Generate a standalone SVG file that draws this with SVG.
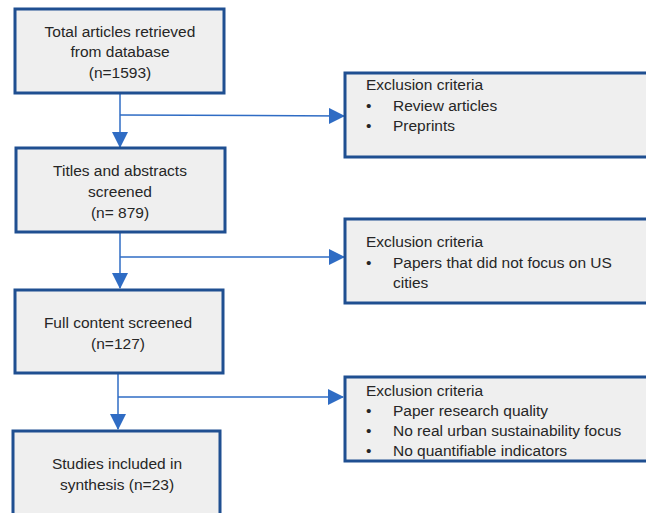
<svg xmlns="http://www.w3.org/2000/svg" width="646" height="513" viewBox="0 0 646 513">
<style>
.box{fill:#efefef;stroke:#1f4f91;stroke-width:3}
.t{font-family:"Liberation Sans",Arial,sans-serif;font-size:15.5px;fill:#262626}
.c{text-anchor:middle}
.conn{stroke:#2f6cc4;stroke-width:1.5;fill:none}
</style>
<defs>
<marker id="ah" markerUnits="userSpaceOnUse" markerWidth="16" markerHeight="16" viewBox="0 0 16 16" refX="15" refY="8" orient="auto">
<path d="M0,0 L16,8 L0,16 z" fill="#2f6cc4"/>
</marker>
</defs>
<rect width="646" height="513" fill="#ffffff"/>
<g id="connectors">
<line class="conn" x1="120" y1="93" x2="120" y2="147" marker-end="url(#ah)"/>
<line class="conn" x1="120" y1="115" x2="344" y2="116" marker-end="url(#ah)"/>
<line class="conn" x1="120" y1="232" x2="120" y2="288" marker-end="url(#ah)"/>
<line class="conn" x1="120" y1="257" x2="344" y2="257" marker-end="url(#ah)"/>
<line class="conn" x1="118" y1="373" x2="118" y2="429" marker-end="url(#ah)"/>
<line class="conn" x1="118" y1="397" x2="343" y2="397" marker-end="url(#ah)"/>
</g>
<g id="n1">
<rect class="box" x="15" y="9" width="209" height="84"/>
<text class="t c" x="120" y="37">Total articles retrieved</text>
<text class="t c" x="120" y="57">from database</text>
<text class="t c" x="120" y="78">(n=1593)</text>
</g>
<g id="e1">
<rect class="box" x="345" y="73" width="320" height="84"/>
<text class="t" x="366" y="90">Exclusion criteria</text>
<text class="t" x="366" y="111">•</text>
<text class="t" x="393" y="111">Review articles</text>
<text class="t" x="366" y="131">•</text>
<text class="t" x="393" y="131">Preprints</text>
</g>
<g id="n2">
<rect class="box" x="16" y="148" width="209" height="84"/>
<text class="t c" x="120" y="176">Titles and abstracts</text>
<text class="t c" x="120" y="197">screened</text>
<text class="t c" x="120" y="218">(n= 879)</text>
</g>
<g id="e2">
<rect class="box" x="345" y="219" width="320" height="84"/>
<text class="t" x="366" y="247">Exclusion criteria</text>
<text class="t" x="366" y="268">•</text>
<text class="t" x="393" y="268">Papers that did not focus on US</text>
<text class="t" x="393" y="288">cities</text>
</g>
<g id="n3">
<rect class="box" x="15" y="290" width="208" height="83"/>
<text class="t c" x="118" y="328">Full content screened</text>
<text class="t c" x="118" y="349">(n=127)</text>
</g>
<g id="e3">
<rect class="box" x="345" y="377" width="320" height="84"/>
<text class="t" x="366" y="396">Exclusion criteria</text>
<text class="t" x="366" y="416">•</text>
<text class="t" x="393" y="416">Paper research quality</text>
<text class="t" x="366" y="436">•</text>
<text class="t" x="393" y="436">No real urban sustainability focus</text>
<text class="t" x="366" y="456">•</text>
<text class="t" x="393" y="456">No quantifiable indicators</text>
</g>
<g id="n4">
<rect class="box" x="13" y="431" width="207" height="95"/>
<text class="t c" x="117" y="469">Studies included in</text>
<text class="t c" x="117" y="490">synthesis (n=23)</text>
</g>
</svg>
